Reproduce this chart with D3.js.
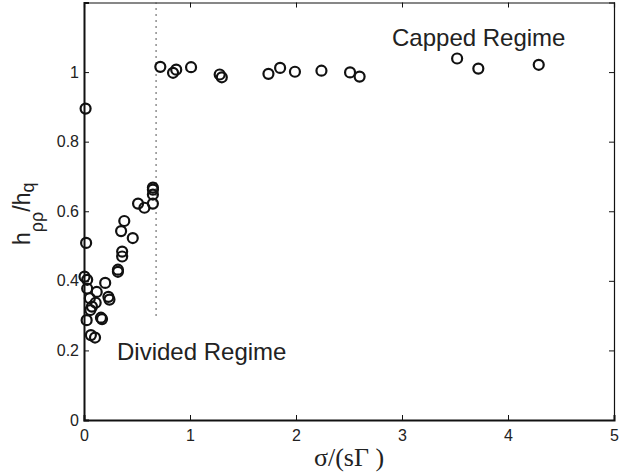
<!DOCTYPE html>
<html>
<head>
<meta charset="utf-8">
<script src="https://cdn.jsdelivr.net/npm/d3@7"></script>
<style>
  body { margin: 0; background: #fff; }
  text { font-family: "Liberation Sans", Arial, sans-serif; fill: #222; }
</style>
</head>
<body>
<svg id="chart" width="628" height="474"></svg>
<script>
// data
var xVals = [0.72, 0.84, 0.87, 1.01, 1.28, 1.30, 1.74, 1.85, 1.99, 2.24, 2.51, 2.60, 3.52, 3.72, 4.29,
             0.015, 0.02,
             0.38, 0.35, 0.46, 0.36, 0.36, 0.32, 0.32, 0.51, 0.57, 0.65, 0.65, 0.65, 0.65,
             0.005, 0.03, 0.03, 0.20, 0.12, 0.055, 0.23, 0.24, 0.11, 0.075, 0.06, 0.16, 0.17, 0.025, 0.065, 0.104];
var yVals = [1.015, 0.998, 1.007, 1.014, 0.993, 0.985, 0.995, 1.012, 1.001, 1.004, 0.999, 0.987, 1.039, 1.010, 1.021,
             0.895, 0.509,
             0.572, 0.543, 0.523, 0.484, 0.470, 0.432, 0.426, 0.622, 0.610, 0.668, 0.662, 0.648, 0.622,
             0.412, 0.403, 0.378, 0.394, 0.368, 0.350, 0.354, 0.346, 0.337, 0.326, 0.316, 0.294, 0.290, 0.287, 0.244, 0.237];
var xTicks = [0, 1, 2, 3, 4, 5];
var yTicks = [0, 0.2, 0.4, 0.6, 0.8, 1];
var yTickLabels = ["0", "0.2", "0.4", "0.6", "0.8", "1"];
var boundaryX = 0.68;          // dotted line between the regimes
var boundaryY = [0.3, 1.2];

var svg = d3.select("#chart");
var mLeft = 84, mRight = 614, mTop = 2.5, mBottom = 420;

var x = d3.scaleLinear().domain([0, 5]).range([mLeft, mRight]);
var y = d3.scaleLinear().domain([0, 1.2]).range([mBottom, mTop]);

// axes, ticks pointing inward like matlab
var xAxis = d3.axisBottom(x).tickValues(xTicks).tickSize(-5).tickPadding(10).tickFormat(d3.format("d"));
var xTop = d3.axisTop(x).tickValues(xTicks).tickSize(-5).tickFormat("");
var yAxis = d3.axisLeft(y).tickValues(yTicks).tickSize(-5).tickPadding(5)
  .tickFormat(function(d, i) { return yTickLabels[i]; });
var yRight = d3.axisRight(y).tickValues(yTicks).tickSize(-5).tickFormat("");

function styleAxis(g, w) {
  g.select(".domain").attr("stroke", "#111").attr("stroke-width", w);
  g.selectAll(".tick line").attr("stroke", "#111").attr("stroke-width", 1);
  g.selectAll(".tick text").attr("fill", "#222").style("font-size", "16px")
    .style("font-family", "'Liberation Sans', Arial, sans-serif");
}

svg.append("g").attr("transform", "translate(0," + mTop + ")").call(xTop).call(styleAxis, 1.2);
svg.append("g").attr("transform", "translate(" + mRight + ",0)").call(yRight).call(styleAxis, 1.2);
svg.append("g").attr("transform", "translate(0," + mBottom + ")").call(xAxis).call(styleAxis, 2);
svg.append("g").attr("transform", "translate(" + mLeft + ",0)").call(yAxis).call(styleAxis, 2);

// dotted boundary
svg.append("line")
  .attr("x1", x(boundaryX)).attr("x2", x(boundaryX))
  .attr("y1", y(boundaryY[0])).attr("y2", y(boundaryY[1]))
  .attr("stroke", "#444").attr("stroke-width", 1.2)
  .attr("stroke-dasharray", "1.5,4.5");

// points
svg.append("g").selectAll("circle")
  .data(xVals)
  .enter().append("circle")
    .attr("cx", function(d) { return x(d); })
    .attr("cy", function(d, i) { return y(yVals[i]); })
    .attr("r", 5)
    .attr("fill", "none")
    .attr("stroke", "#111")
    .attr("stroke-width", 2.2);

// annotations
svg.append("text").attr("x", 392).attr("y", 46).style("font-size", "24px").text("Capped Regime");
svg.append("text").attr("x", 117).attr("y", 360).style("font-size", "24px").text("Divided Regime");

// x label
svg.append("text")
  .attr("x", 349).attr("y", 466)
  .attr("text-anchor", "middle")
  .style("font-family", "'Liberation Serif', 'Times New Roman', serif")
  .style("font-size", "26px")
  .text("\u03c3/(s\u0393 )");

// y label with subscripts (matlab drops the rho pair lower than q)
var yl = svg.append("text")
  .attr("transform", "translate(30,245) rotate(-90)")
  .style("font-size", "23px");
yl.append("tspan").text("h");
yl.append("tspan").attr("dy", 13).style("font-size", "18px").text("\u03c1\u03c1");
yl.append("tspan").attr("dy", -13).text("/h");
yl.append("tspan").attr("dy", 4).style("font-size", "18px").text("q");
</script>
</body>
</html>
